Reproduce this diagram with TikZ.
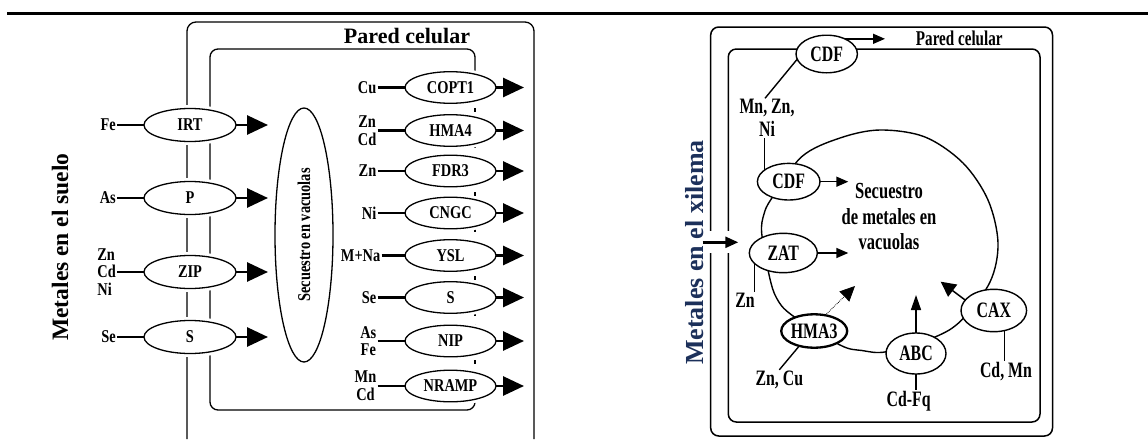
\documentclass[tikz,border=0pt]{standalone}
\usepackage{fontspec}
\setmainfont{Liberation Serif}
\newfontfamily\lfont[FakeStretch=0.8]{Liberation Serif}
\newfontfamily\rfont[FakeStretch=0.72]{Liberation Serif}
\usetikzlibrary{arrows.meta,shapes.geometric}
\definecolor{navy}{RGB}{28,48,90}
\begin{document}
\begin{tikzpicture}[x=1pt,y=-1pt,
  boxl/.style={line width=1.3pt, rounded corners=9pt},
  boxr/.style={line width=1.5pt, rounded corners=8pt},
  thk/.style={line width=2.8pt},
  rl/.style={line width=1.4pt},
  lfnt/.style={font=\lfont\bfseries\fontsize{18}{17.7}\selectfont},
  rfnt/.style={font=\rfont\bfseries\fontsize{22}{22.6}\selectfont},
  lell/.style={ellipse, draw, line width=1.3pt, fill=white, inner sep=0pt, outer sep=0pt,
    minimum width=92pt, minimum height=33pt, lfnt, preaction={draw=white, line width=7pt}},
  rell/.style={ellipse, draw, line width=1.3pt, fill=white, inner sep=0pt, outer sep=0pt,
    minimum width=91pt, minimum height=31.6pt, lfnt, preaction={draw=white, line width=7pt}},
  llab/.style={lfnt, inner sep=1pt, anchor=east},
  bigarr/.style={line width=2.8pt, -{Triangle[length=21pt,width=19pt]}},
  cell/.style={ellipse, draw, line width=1.4pt, fill=white, inner sep=0pt, outer sep=0pt, rfnt},
  rlab/.style={rfnt, inner sep=1pt},
  sarr/.style={line width=1.5pt, -{Triangle[length=12pt,width=10pt]}}
]
\useasboundingbox (0,0) rectangle (1148,439);
% top rule
\draw[line width=2.5pt] (7,13.3) -- (1148,13.3);

%================ LEFT PANEL ================
\draw[boxl] (187,439) -- (187,22) -- (534,22) -- (534,439);
\draw[boxl, rounded corners=8pt] (475,72) -- (475,49) -- (210,49) -- (210,410) -- (475,410) -- (475,403);
\draw[line width=1.3pt, dash pattern=on 4pt off 8pt] (475,72) -- (475,403);

\node[font=\bfseries\fontsize{22}{22}\selectfont] (pc1) at (407,36) {Pared celular};
\node[rotate=90, font=\bfseries\fontsize{23.5}{24}\selectfont] (msuelo) at (60,247) {Metales en el suelo};

% left transporters
\node[lell] (irt) at (190,125) {IRT};
\node[lell] (p) at (190,198) {P};
\node[lell] (zip) at (190,272) {ZIP};
\node[lell] (sl) at (190,337) {S};

\node[llab] (lfe) at (117,125) {Fe};
\node[llab] (las) at (117,198) {As};
\node[llab, align=left] (lzn) at (117,272) {Zn\\Cd\\Ni};
\node[llab] (lse) at (117,337) {Se};

\foreach \l/\e in {lfe/irt, las/p, lzn/zip, lse/sl}{
  \draw[thk] (\l.east) -- (\e.west);
  \draw[bigarr] (\e.east) -- ++(32,0);
}

% vacuole sequestration
\node[ellipse, draw, line width=1.3pt, minimum width=58pt, minimum height=254pt, inner sep=0pt] (sec) at (304,235) {};
\node[rotate=90, font=\lfont\bfseries\fontsize{18}{18}\selectfont] (sectxt) at (sec.center) {Secuestro en vacuolas};

% right transporters
\node[rell] (copt) at (450.5,87.5) {COPT1};
\node[rell] (hma4) at (450.5,130.5) {HMA4};
\node[rell] (fdr3) at (450.5,171) {FDR3};
\node[rell] (cngc) at (450.5,213) {CNGC};
\node[rell] (ysl) at (450.5,255.5) {YSL};
\node[rell] (sr) at (450.5,297.5) {S};
\node[rell] (nip) at (450.5,341) {NIP};
\node[rell] (nramp) at (450.5,386) {NRAMP};

\node[llab] (rcu) at (377.5,87.5) {Cu};
\node[llab, align=center] (rzn) at (377.5,130.5) {Zn\\Cd};
\node[llab] (rzn2) at (377.5,171) {Zn};
\node[llab] (rni) at (377.5,213) {Ni};
\node[llab] (rmna) at (381.5,255.5) {M+Na};
\node[llab] (rse) at (377.5,297.5) {Se};
\node[llab, align=center] (ras) at (377.5,341) {As\\Fe};
\node[llab, align=center] (rmn) at (377.5,386) {Mn\\Cd};

\foreach \l/\e in {rcu/copt, rzn/hma4, rzn2/fdr3, rni/cngc, rmna/ysl, rse/sr, ras/nip, rmn/nramp}{
  \draw[thk] (\l.east) -- (\e.west);
  \draw[bigarr] (\e.east) -- ++(28,0);
}

%================ RIGHT PANEL ================
\draw[boxr] (710.7,27) rectangle (1052.5,436);
\draw[boxr] (728.3,49) rectangle (1040,422);
\node[rlab, font=\rfont\bfseries\fontsize{21}{21}\selectfont] (pc2) at (959.3,38.5) {Pared celular};

% xylem entry
\fill[white] (705,231) rectangle (733,252.5);
\coordinate (xin) at (702.7,242.3);
\coordinate (xout) at (738.3,242.3);
\draw[line width=2.5pt, -{Triangle[length=13pt,width=11pt]}] (xin) -- (xout);
\node[rotate=90, text=navy, font=\bfseries\fontsize{26}{26}\selectfont] (mxil) at (695,252.5) {Metales en el xilema};

% vacuole loop
\draw[line width=1.4pt] plot[smooth cycle, tension=0.55] coordinates {
 (801.7,156.7) (840,138) (880,130) (925,137) (963,163) (988,200) (998,243) (990,282)
 (961.7,320) (935,337) (886.7,351.7) (862,350.5) (840,345) (791.7,315) (776.7,298.3)
 (769.3,276) (761.7,233.3) (764,214) (771.7,198.3)};

\node[rlab, align=center, font=\rfont\bfseries\fontsize{23}{25.5}\selectfont] (sec2) at (889,217) {Secuestro\\de metales en\\vacuolas};

\node[cell, minimum width=61.4pt, minimum height=37.6pt] (cdf1) at (826.7,54) {CDF};
\node[cell, minimum width=62.6pt, minimum height=36.6pt] (cdf2) at (788.7,181.7) {CDF};
\node[cell, minimum width=68pt, minimum height=39.4pt] (zat) at (783.3,253) {ZAT};
\node[cell, line width=2.3pt, minimum width=65pt, minimum height=33.4pt] (hma3) at (814.2,331) {HMA3};
\node[cell, minimum width=60pt, minimum height=41pt] (abc) at (916,353.5) {ABC};
\node[cell, minimum width=65.6pt, minimum height=42.4pt] (cax) at (993.8,310.5) {CAX};

\node[rlab, align=center] (mnzn) at (767,118) {Mn, Zn,\\Ni};
\node[rlab] (znr) at (745,300) {Zn};
\node[rlab] (zncu) at (779.3,380) {Zn, Cu};
\node[rlab] (cdfq) at (908.7,401) {Cd-Fq};
\node[rlab] (cdmn) at (1006,371.7) {Cd, Mn};

\draw[rl] (cdf1.190) -- ([xshift=-2pt]mnzn.north);
\draw[rl] (cdf2.155) -- (cdf2.155 |- mnzn.south);
\draw[rl] (zat.200) -- (zat.200 |- znr.north);
\draw[rl] (hma3.225) -- (zncu.north);
\draw[rl] (abc.south) -- (abc.south |- cdfq.north);
\draw[rl] (cax.-62) -- (cax.-62 |- cdmn.north);

\coordinate (t1) at (885,36.5);
\coordinate (t2) at (848.3,181.7);
\coordinate (t3) at (848.3,253);
\coordinate (t4) at (855,286);
\coordinate (t5) at (916,295);
\coordinate (t6) at (940.7,281.7);
\draw[sarr] (cdf1.40) -- (cdf1.40 -| t1);
\draw[sarr] (cdf2.east) -- (t2);
\draw[sarr] (zat.east) -- (t3);
\draw[line width=0.8pt, densely dotted, -{Triangle[length=15pt,width=14pt]}] (hma3.55) -- (t4);
\draw[line width=1.5pt, -{Triangle[length=15pt,width=10pt]}] (abc.north) -- (t5);
\draw[line width=1.5pt, -{Triangle[length=15pt,width=15pt]}] (cax.160) -- (t6);
\end{tikzpicture}
\end{document}
